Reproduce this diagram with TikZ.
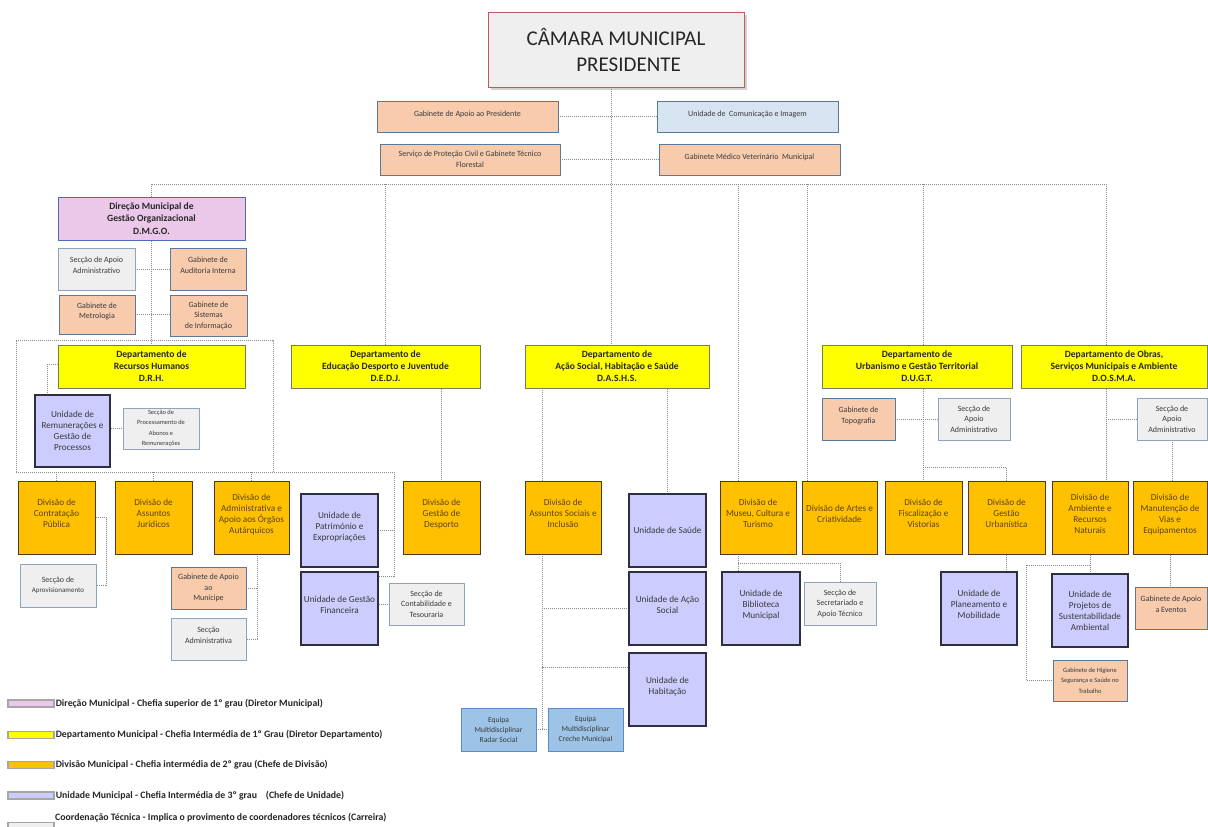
\documentclass[tikz,border=0pt]{standalone}
\usepackage{fontspec}
\setmainfont{Carlito}
\usetikzlibrary{shadows,backgrounds,calc}
\definecolor{salmonc}{HTML}{F8CBAD}
\definecolor{lblue}{HTML}{D6E3F1}
\definecolor{pinkc}{HTML}{EBC8EA}
\definecolor{yellowc}{HTML}{FFFF00}
\definecolor{orangec}{HTML}{FFC000}
\definecolor{lavc}{HTML}{CCCCFF}
\definecolor{grayc}{HTML}{EFEFEF}
\definecolor{skyc}{HTML}{9DC3E6}
\definecolor{bordbl}{HTML}{5A7898}
\definecolor{bordgr}{HTML}{8EA4BC}
\definecolor{bordor}{HTML}{4A3B20}
\definecolor{bordlav}{HTML}{2F2F3F}
\definecolor{borddep}{HTML}{6E7E5E}
\definecolor{bordpk}{HTML}{4A6FB0}
\definecolor{bordsky}{HTML}{5B8CC0}
\definecolor{txtc}{HTML}{3A3A3A}
\definecolor{txtor}{HTML}{5C4318}
\definecolor{conc}{HTML}{8A8A8A}
\newcommand\bx[7]{\node[#1,minimum width={(#5-#3)*1pt},minimum height={(#6-#4)*1pt}] (#2) at ({(#3+#5)/2},{(#4+#6)/2}) {#7};}
\newcommand\fs[2]{\fontsize{#1}{#2}\selectfont}
\newcommand\tup{\\[-3pt]}
\tikzset{
  base/.style={draw, align=center, inner sep=1pt, text=txtc, line width=0.8pt},
  sal/.style={base, fill=salmonc, draw=bordbl, font=\fs{8}{10.5}},
  lbl/.style={base, fill=lblue, draw=bordbl, font=\fs{8}{10.5}},
  gry/.style={base, fill=grayc, draw=bordgr, font=\fs{8}{10.5}},
  lav/.style={base, fill=lavc, draw=bordlav, line width=1.1pt, font=\fs{9.2}{11}},
  org/.style={base, fill=orangec, draw=bordor, line width=1pt, text=txtor, font=\fs{9.2}{11}},
  dep/.style={base, fill=yellowc, draw=borddep, line width=1pt, text=black!85, font=\fs{9.6}{12}\bfseries},
  dmg/.style={base, fill=pinkc, draw=bordpk, line width=1pt, text=black!85, font=\fs{9.6}{12.3}\bfseries},
  sky/.style={base, fill=skyc, draw=bordsky, font=\fs{7.6}{10}},
  con/.style={draw=conc, line width=0.6pt, dash pattern=on 1pt off 1pt},
  swatch/.style={draw=black!35, line width=1.2pt, minimum width=46pt, minimum height=7pt, inner sep=0pt},
  lgt/.style={anchor=west, inner sep=1pt, text=black!85, font=\fs{9.8}{11}\bfseries}
}
\begin{document}
\begin{tikzpicture}[x=1pt,y=-1pt]
\useasboundingbox (0,0) rectangle (1208,827);
% title
\node[draw={rgb,255:red,192;green,90;blue,90}, line width=1pt, fill=grayc, align=center,
  font=\fs{21}{26}, text=black!85, minimum width=256pt, minimum height=75pt,
  drop shadow={shadow xshift=2.5pt, shadow yshift=-2.5pt, fill=black!35}]
  (camara) at (616,49.5) {CÂMARA MUNICIPAL\\\hspace*{1.2em}PRESIDENTE};
\bx{sal}{gap}{377}{101}{558}{132}{Gabinete de Apoio ao Presidente\\[-4pt]}
\bx{lbl}{uci}{657}{101}{838}{132}{Unidade de\ \ Comunicação e Imagem\\[-4pt]}
\bx{sal}{spc}{380}{144}{560}{175}{Serviço de Proteção Civil e Gabinete Técnico\\Florestal}
\bx{sal}{gmv}{659}{144}{840}{175}{Gabinete Médico Veterinário\ \ Municipal\\[-4pt]}
% DMGO
\bx{dmg}{dmgo}{58}{197}{245}{240}{Direção Municipal de\\Gestão Organizacional\\D.M.G.O.}
\bx{gry}{saa1}{58}{248}{135}{290}{Secção de Apoio\\Administrativo\tup}
\bx{sal}{gai}{170}{248}{246}{290}{Gabinete de\\Auditoria Interna\tup}
\bx{sal}{gmet}{59}{295}{135}{334}{Gabinete de\\Metrologia\tup}
\bx{sal}{gsi}{170}{295}{247}{336}{Gabinete de\\Sistemas\\de Informação}
% DRH
\bx{dep}{drh}{58}{345}{245}{388}{Departamento de\\Recursos Humanos\\D.R.H.}
\bx{lav}{urgp}{35}{395}{110}{467}{Unidade de\\Remunerações e\\Gestão de\\Processos}
\bx{gry}{spar}{123}{408}{199}{449}{\fs{6.4}{8}Secção de\\\fs{6.4}{8}Processamento de\\\fs{6.4}{8}Abonos e\\\fs{6.4}{8}Remunerações}
\bx{org}{dcp}{18}{481}{95}{554}{Divisão de\\Contratação\\Pública\tup}
\bx{org}{daj}{115}{481}{192}{554}{Divisão de\\Assuntos\\Jurídicos\tup}
\bx{org}{daa}{214}{481}{289}{554}{Divisão de\\Administrativa e\\Apoio aos Órgãos\\Autárquicos\tup}
\bx{gry}{sapr}{20}{564}{96}{607}{Secção de\\\fs{7}{9}Aprovisionamento}
\bx{sal}{gam}{171}{567}{246}{609}{Gabinete de Apoio\\ao\\Munícipe}
\bx{gry}{sadm}{171}{618}{246}{660}{Secção\\Administrativa\tup}
% DEDJ
\bx{dep}{dedj}{291}{345}{480}{388}{Departamento de\\Educação Desporto e Juventude\\D.E.D.J.}
\bx{lav}{upe}{301}{494}{378}{567}{Unidade de\\Património e\\Expropriações\tup}
\bx{lav}{ugf}{301}{572}{378}{645}{Unidade de Gestão\\Financeira\tup}
\bx{gry}{sct}{389}{583}{464}{625}{Secção de\\Contabilidade e\\Tesouraria}
\bx{org}{dgd}{403}{481}{480}{554}{Divisão de\\Gestão de\\Desporto\tup}
% DASHS
\bx{dep}{dashs}{525}{345}{709}{388}{Departamento de\\Ação Social, Habitação e Saúde\\D.A.S.H.S.}
\bx{org}{dasi}{525}{481}{601}{554}{Divisão de\\Assuntos Sociais e\\Inclusão\tup}
\bx{lav}{us}{629}{494}{706}{567}{Unidade de Saúde}
\bx{lav}{uas}{629}{572}{706}{645}{Unidade de Ação\\Social\tup}
\bx{lav}{uh}{629}{653}{706}{726}{Unidade de\\Habitação\tup}
\bx{sky}{emr}{461}{708}{536}{751}{Equipa\\Multidisciplinar\\Radar Social}
\bx{sky}{emc}{548}{708}{623}{751}{Equipa\\Multidisciplinar\\Creche Municipal}
% Museu / Artes
\bx{org}{dmct}{720}{481}{796}{554}{Divisão de\\Museu, Cultura e\\Turismo\tup}
\bx{org}{dac}{802}{481}{877}{554}{Divisão de Artes e\\Criatividade\tup}
\bx{lav}{ubm}{722}{572}{800}{645}{Unidade de\\Biblioteca\\Municipal\tup}
\bx{gry}{ssat}{804}{582}{876}{625}{Secção de\\Secretariado e\\Apoio Técnico}
% DUGT
\bx{dep}{dugt}{822}{345}{1012}{388}{Departamento de\\Urbanismo e Gestão Territorial\\D.U.G.T.}
\bx{sal}{gtop}{822}{398}{895}{440}{Gabinete de\\Topografia\tup}
\bx{gry}{saa2}{938}{398}{1010}{440}{Secção de\\Apoio\\Administrativo}
\bx{org}{dfv}{885}{481}{962}{554}{Divisão de\\Fiscalização e\\Vistorias\tup}
\bx{org}{dgu}{968}{481}{1045}{554}{Divisão de\\Gestão\\Urbanística\tup}
\bx{lav}{upm}{941}{572}{1017}{645}{Unidade de\\Planeamento e\\Mobilidade\tup}
% DOSMA
\bx{dep}{dosma}{1021}{345}{1207}{388}{Departamento de Obras,\\Serviços Municipais e Ambiente\\D.O.S.M.A.}
\bx{gry}{saa3}{1137}{398}{1207}{440}{Secção de\\Apoio\\Administrativo}
\bx{org}{darn}{1052}{481}{1128}{554}{Divisão de\\Ambiente e\\Recursos\\Naturais\tup}
\bx{org}{dmve}{1133}{481}{1207}{554}{Divisão de\\Manutenção de\\Vias e\\Equipamentos\tup}
\bx{lav}{upsa}{1052}{574}{1128}{647}{Unidade de\\Projetos de\\Sustentabilidade\\Ambiental}
\bx{sal}{ghst}{1053}{660}{1127}{701}{\fs{6.5}{8}Gabinete de Higiene\\\fs{6.5}{8}Segurança e Saúde no\\\fs{6.5}{8}Trabalho}
\bx{sal}{gae}{1135}{587}{1207}{629}{Gabinete de Apoio\\a Eventos\tup}
% legend
\node[swatch, fill=pinkc] (lg1) at (31,703.5) {};
\node[lgt] (lt1) at (lg1.east) {Direção Municipal - Chefia superior de 1º grau (Diretor Municipal)};
\node[swatch, fill=yellowc] (lg2) at (31,735) {};
\node[lgt] (lt2) at (lg2.east) {Departamento Municipal - Chefia Intermédia de 1º Grau (Diretor Departamento)};
\node[swatch, fill=orangec] (lg3) at (31,765) {};
\node[lgt] (lt3) at (lg3.east) {Divisão Municipal - Chefia intermédia de 2º grau (Chefe de Divisão)};
\node[swatch, fill=lavc] (lg4) at (31,795.5) {};
\node[lgt] (lt4) at (lg4.east) {Unidade Municipal - Chefia Intermédia de 3º grau\ \ \ \ (Chefe de Unidade)};
\node[swatch, fill=grayc] (lg5) at (31,826) {};
\node[lgt] (lt5) at (54,818) {Coordenação Técnica - Implica o provimento de coordenadores técnicos (Carreira)};
% connectors
\begin{pgfonlayer}{background}
\fill[white] (0,0) rectangle (1208,827);
\coordinate (spT) at (611,87);
\draw[con] (spT) -- (spT |- dashs.north);
\draw[con] (gap.east) -- (uci.west);
\draw[con] (spc.east) -- (gmv.west);
\coordinate (busL) at (152,184);
\coordinate (busR) at (1106,184);
\draw[con] (busL) -- (busR);
\draw[con] (dmgo.north |- busL) -- (dmgo.north);
\draw[con] (dedj.north |- busL) -- (dedj.north);
\coordinate (mu) at (738,184);
\coordinate (ar) at (807,184);
\coordinate (ug) at (923,184);
\draw[con] (mu) -- (mu |- dmct.north);
\draw[con] (ar) -- (ar |- dac.north);
\draw[con] (ug) -- (ug |- dugt.north);
\draw[con] (busR) -- (busR |- dosma.north);
% DMGO
\draw[con] (dmgo.south) -- (dmgo.south |- drh.north);
\draw[con] (saa1.east) -- (gai.west);
\draw[con] (gmet.east) -- (gmet.east -| gsi.west);
% DRH frame
\coordinate (fTL) at (16,340);
\coordinate (fTR) at (273,340);
\coordinate (fBL) at (16,472);
\coordinate (fBM) at (273,472);
\coordinate (fBR) at (394,472);
\draw[con] (fBL) -- (fTL) -- (fTR) -- (fBM);
\draw[con] (fBL) -- (fBR) |- (upe.east);
\coordinate (ugfj) at ($(ugf.north east)+(0,5)$);
\draw[con] (fBR) |- (ugfj);
\draw[con] (fBL -| dcp.north) -- (dcp.north);
\draw[con] (fBL -| daj.north) -- (daj.north);
\draw[con] (fBL -| daa.north) -- (daa.north);
\coordinate (uj) at (47,364);
\draw[con] (drh.west |- uj) -- (uj) -- (uj |- urgp.north);
\draw[con] (urgp.east |- spar.west) -- (spar.west);
\draw[con] (dcp.east) -- ++(11,0) |- (sapr.east);
\coordinate (aa) at (257,554);
\draw[con] (aa) |- (gam.east);
\draw[con] (aa) |- (sadm.east);
\draw[con] (ugf.east |- sct.west) -- (sct.west);
\draw[con] (dgd.north |- dedj.south) -- (dgd.north);
% DASHS
\coordinate (da) at (542,388);
\draw[con] (da) -- (da |- dasi.north);
\coordinate (db) at (542,554);
\draw[con] (db) -- (db |- emr.east);
\draw[con] (emr.east) -- (emc.west);
\draw[con] (db |- uas.west) -- (uas.west);
\coordinate (uhj) at ($(uh.north west)+(0,15)$);
\draw[con] (uhj) -- (uhj -| db);
\draw[con] (us.north |- dashs.south) -- (us.north);
% Museu
\coordinate (mb) at (738,554);
\draw[con] (mb) -- (mb |- ubm.north);
\coordinate (mh) at (738,563);
\draw[con] (mh) -| (ssat.north);
% DUGT
\draw[con] (dfv.north |- dugt.south) -- (dfv.north);
\draw[con] (gtop.east) -- (saa2.west);
\coordinate (ugb) at (923,467);
\draw[con] (ugb) -| (dgu.north);
\draw[con] (dgu.south) -- (dgu.south |- upm.north);
% DOSMA
\draw[con] (busR |- dosma.south) -- (busR |- darn.north);
\draw[con] (busR |- saa3.west) -- (saa3.west);
\draw[con] (saa3.south) -- (saa3.south |- dmve.north);
\draw[con] (darn.south) -- (darn.south |- upsa.north);
\coordinate (ah) at (1090,565);
\coordinate (ahL) at (1026,565);
\draw[con] (ah) -- (ahL) |- (ghst.west);
\draw[con] (dmve.south) -- (dmve.south |- gae.north);
\end{pgfonlayer}
\end{tikzpicture}
\end{document}
